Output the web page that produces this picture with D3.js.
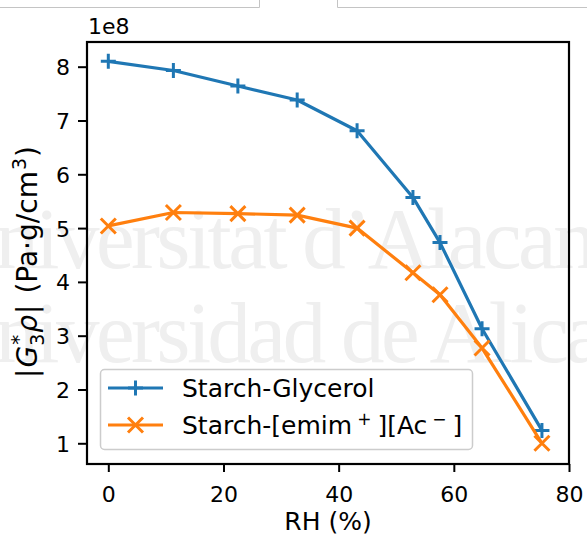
<!DOCTYPE html>
<html>
<head>
<meta charset="utf-8">
<script src="https://cdn.jsdelivr.net/npm/d3@7"></script>
<style>
  html, body { margin: 0; padding: 0; background: #fff; }
  svg { display: block; font-family: "DejaVu Sans", sans-serif; }
  text { white-space: pre; }
</style>
</head>
<body>
<svg id="chart" width="587" height="538"></svg>
<script>
// Relative humidity (%) of each conditioning step
const rh = [0, 11.3, 22.5, 32.8, 43.2, 52.9, 57.6, 64.9, 75.3];
// |G*3 rho| in Pa·g/cm³
const starchGlycerol = [8.10e8, 7.93e8, 7.64e8, 7.38e8, 6.81e8, 5.57e8, 4.73e8, 3.13e8, 1.24e8];
const starchEmimAc   = [5.04e8, 5.29e8, 5.27e8, 5.24e8, 5.00e8, 4.17e8, 3.76e8, 2.77e8, 1.00e8];
const seriesNames = ["Starch-Glycerol", "Starch-[emim\u207A][Ac\u207B]"];
const xTicks = [0, 20, 40, 60, 80];
const yTicks = [1e8, 2e8, 3e8, 4e8, 5e8, 6e8, 7e8, 8e8];

const svg = d3.select("#chart");
const M = { left: 87, right: 569, top: 42, bottom: 464 };
const TICK_FS = 22;   // tick labels and offset text
const LABEL_FS = 25;  // x label and legend
const YLABEL_FS = 28; // math-style y label

// Background watermark
const wm = svg.append("g")
  .attr("font-family", "'Liberation Serif', 'DejaVu Serif', serif")
  .attr("font-size", 87)
  .attr("letter-spacing", -3.5)
  .attr("fill", "#efefef");
wm.append("text").attr("x", -64).attr("y", 268).text("Universitat d\u2019Alacant");
wm.append("text").attr("x", -64).attr("y", 362).text("Universidad de Alicante");

// Page frame edges along the top
svg.append("path")
  .attr("d", "M0,7.5H259.5V0M587,7.5H337.5V0")
  .attr("fill", "none").attr("stroke", "#c4c4c4").attr("stroke-width", 1);

const x = d3.scaleLinear().domain([-3.7, 80]).range([M.left, M.right]);
const y = d3.scaleLinear().domain([0.615e8, 8.459e8]).range([M.bottom, M.top]);

// Axes
const xAxis = svg.append("g")
  .attr("transform", `translate(0,${M.bottom})`)
  .call(d3.axisBottom(x).tickValues(xTicks).tickSize(8).tickPadding(14).tickFormat(d3.format("d")));
const yAxis = svg.append("g")
  .attr("transform", `translate(${M.left},0)`)
  .call(d3.axisLeft(y).tickValues(yTicks).tickSize(9).tickPadding(8).tickFormat(d => d3.format("d")(d / 1e8)));
[xAxis, yAxis].forEach(a => {
  a.select(".domain").remove();
  a.selectAll(".tick line").attr("stroke", "#000").attr("stroke-width", 2);
  a.selectAll(".tick text").attr("fill", "#000").attr("font-size", TICK_FS).attr("font-family", "DejaVu Sans");
});
yAxis.selectAll(".tick text").attr("dy", "0.36em");

// Offset text
svg.append("text").attr("x", 88).attr("y", 34).attr("font-size", TICK_FS).text("1e8");

// Lines and markers
const line = d3.line().x(d => x(d[0])).y(d => y(d[1]));
const data = [
  { vals: starchGlycerol, color: "#1f77b4", marker: "plus" },
  { vals: starchEmimAc,   color: "#ff7f0e", marker: "cross" }
];
const plus = r => `M${-r},0H${r}M0,${-r}V${r}`;
const cross = r => `M${-r},${-r}L${r},${r}M${-r},${r}L${r},${-r}`;
const markerPath = (m) => m === "plus" ? plus(7.5) : cross(7.5);

data.forEach(s => {
  const pts = rh.map((v, i) => [v, s.vals[i]]);
  svg.append("path").datum(pts)
    .attr("d", line).attr("fill", "none")
    .attr("stroke", s.color).attr("stroke-width", 3.2).attr("stroke-linejoin", "round");
  svg.append("g").selectAll("path").data(pts).join("path")
    .attr("transform", d => `translate(${x(d[0])},${y(d[1])})`)
    .attr("d", markerPath(s.marker))
    .attr("stroke", s.color).attr("stroke-width", 3).attr("fill", "none");
});

// Axes frame
svg.append("rect")
  .attr("x", M.left).attr("y", M.top)
  .attr("width", M.right - M.left).attr("height", M.bottom - M.top)
  .attr("fill", "none").attr("stroke", "#000").attr("stroke-width", 2.2);

// Legend
const lg = svg.append("g");
lg.append("rect").attr("x", 100.5).attr("y", 369.5).attr("width", 372).attr("height", 80)
  .attr("rx", 4).attr("fill", "#fff").attr("fill-opacity", 0.8)
  .attr("stroke", "#cccccc").attr("stroke-width", 1.5);
data.forEach((s, i) => {
  const cy = 388 + i * 37;
  lg.append("line").attr("x1", 108).attr("x2", 163).attr("y1", cy).attr("y2", cy)
    .attr("stroke", s.color).attr("stroke-width", 3.2);
  lg.append("path").attr("transform", `translate(135.5,${cy})`).attr("d", markerPath(s.marker))
    .attr("stroke", s.color).attr("stroke-width", 3).attr("fill", "none");
});
lg.append("text").attr("x", 182).attr("y", 388).attr("dy", "0.36em").attr("font-size", LABEL_FS).text(seriesNames[0]);
const t2 = lg.append("text").attr("x", 182).attr("y", 425).attr("dy", "0.36em").attr("font-size", LABEL_FS);
t2.append("tspan").text("Starch-[emim");
t2.append("tspan").attr("dx", 5).attr("dy", -9).attr("font-size", 17).text("+");
t2.append("tspan").attr("dx", 6).attr("dy", 9).text("][Ac");
t2.append("tspan").attr("dx", 5).attr("dy", -9).attr("font-size", 17).text("\u2212");
t2.append("tspan").attr("dx", 6).attr("dy", 9).text("]");

// X label
svg.append("text").attr("x", (M.left + M.right) / 2).attr("y", 530)
  .attr("text-anchor", "middle").attr("font-size", LABEL_FS).text("RH (%)");

// Y label built from pieces in a rotated group
const yl = svg.append("g").attr("transform", `translate(37,262) rotate(-90)`);
const pieces = [
  { t: "|", size: YLABEL_FS },
  { t: "G", size: YLABEL_FS, italic: true, gapBefore: 1 },
  { t: "*", size: 20, dy: -12, stack: true },
  { t: "3", size: 19, dy: 7, stackEnd: true },
  { t: "\u03C1", size: YLABEL_FS, italic: true, gapBefore: 1 },
  { t: "|", size: YLABEL_FS, gapBefore: 1 },
  { t: " (Pa\u00B7g/cm", size: YLABEL_FS, gapBefore: 2 },
  { t: "3", size: 19, dy: -11, gapBefore: 1 },
  { t: ")", size: YLABEL_FS, gapBefore: 1 }
];
let cx = 0, stackStart = null, stackW = 0;
const els = [];
pieces.forEach(p => {
  if (p.gapBefore) cx += p.gapBefore;
  const el = yl.append("text").attr("font-size", p.size).attr("y", p.dy || 0)
    .attr("font-style", p.italic ? "italic" : "normal").text(p.t);
  const w = el.node().getComputedTextLength();
  if (p.stack) { stackStart = cx; stackW = w; el.attr("x", cx + 1); els.push(el); return; }
  if (p.stackEnd) { el.attr("x", stackStart); cx = stackStart + Math.max(stackW + 1, w); els.push(el); return; }
  el.attr("x", cx); els.push(el);
  cx += w;
});
const shift = -cx / 2;
els.forEach(el => el.attr("x", +el.attr("x") + shift));
</script>
</body>
</html>
